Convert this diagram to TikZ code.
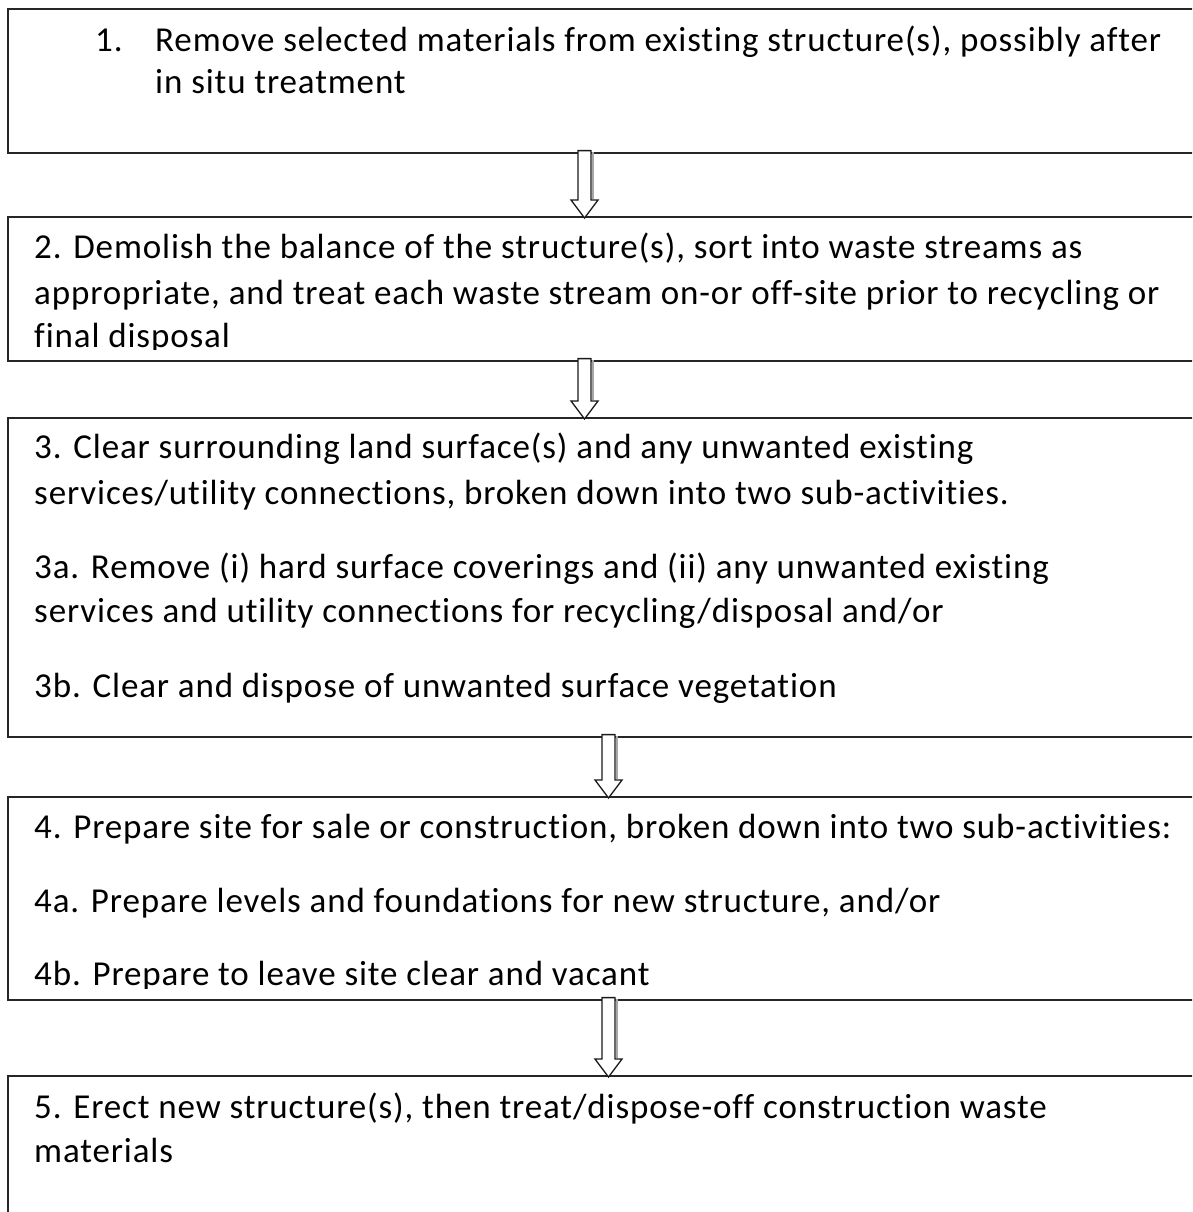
\documentclass[tikz,border=0pt]{standalone}
\usepackage{fontspec}
\setmainfont[Ligatures=NoCommon, LetterSpace=2.5]{Carlito}
\usetikzlibrary{calc}

% hollow block arrow from the bottom of one box to the top of the next
\newcommand\flowarrow[3]{%
  \coordinate (T) at ($(#2.south -| #1,0)+(0,-3)$);
  \coordinate (P) at ($(#3.north -| #1,0)+(0,2)$);
  \draw[arrowshadow] ($(T)+(8.2,1)$) -- ($(P)+(8.2,-19)$);
  \draw[blockarrow] ($(T)+(-6.5,0)$) -- ($(T)+(6.5,0)$) -- ($(P)+(6.5,-18)$)
    -- ($(P)+(13.5,-18)$) -- (P) -- ($(P)+(-13.5,-18)$) -- ($(P)+(-6.5,-18)$) -- cycle;
}

\begin{document}
\begin{tikzpicture}[x=1pt,y=-1pt,
  stepbox/.style={draw=black!85, line width=1.6pt, inner sep=0pt, anchor=north west,
                  minimum width=1200pt},
  txt/.style={anchor=base west, inner sep=0pt, font=\fontsize{35}{40}\selectfont,
              text=black},
  blockarrow/.style={draw=black!90, line width=1.3pt, fill=white, line join=miter},
  arrowshadow/.style={draw=black!35, line width=2.2pt},
]
\useasboundingbox (0,0) rectangle (1192,1212);
\begin{scope}
\clip (0,0) rectangle (1192,1212);

% the five step boxes
\node[stepbox, minimum height=144pt] (b1) at (7,8) {};
\node[stepbox, minimum height=144pt] (b2) at (7,216) {};
\node[stepbox, minimum height=319pt] (b3) at (7,417) {};
\node[stepbox, minimum height=203pt] (b4) at (7,796) {};
\node[stepbox, minimum height=200pt] (b5) at (7,1075) {};

% step 1
\node[txt] (t1n) at (95,52) {1.};
\node[txt] (t1a) at (155,52) {Remove selected materials from existing structure(s), possibly after};
\node[txt] (t1b) at (155,94) {in situ treatment};

% step 2
\begin{scope}
\clip (b2.north west) rectangle ($(b2.south east)+(0,-12)$);
\node[txt] (t2a) at (34,258) {2. Demolish the balance of the structure(s), sort into waste streams as};
\node[txt] (t2b) at (34,304) {appropriate, and treat each waste stream on-or off-site prior to recycling or};
\node[txt] (t2c) at (34,347) {final disposal};
\end{scope}

% step 3
\node[txt] (t3a) at (34,458) {3. Clear surrounding land surface(s) and any unwanted existing};
\node[txt] (t3b) at (34,504) {services/utility connections, broken down into two sub-activities.};
\node[txt] (t3c) at (34,578) {3a. Remove (i) hard surface coverings and (ii) any unwanted existing};
\node[txt] (t3d) at (34,622) {services and utility connections for recycling/disposal and/or};
\node[txt] (t3e) at (34,697) {3b. Clear and dispose of unwanted surface vegetation};

% step 4
\begin{scope}
\clip (b4.north west) rectangle ($(b4.south east)+(0,-12)$);
\node[txt] (t4a) at (34,838) {4. Prepare site for sale or construction, broken down into two sub-activities:};
\node[txt] (t4b) at (34,912) {4a. Prepare levels and foundations for new structure, and/or};
\node[txt] (t4c) at (34,985) {4b. Prepare to leave site clear and vacant};
\end{scope}

% step 5
\node[txt] (t5a) at (34,1118) {5. Erect new structure(s), then treat/dispose-off construction waste};
\node[txt] (t5b) at (34,1162) {materials};

% connectors
\flowarrow{584.5}{b1}{b2}
\flowarrow{584.5}{b2}{b3}
\flowarrow{608.5}{b3}{b4}
\flowarrow{608.5}{b4}{b5}
\end{scope}
\end{tikzpicture}
\end{document}
